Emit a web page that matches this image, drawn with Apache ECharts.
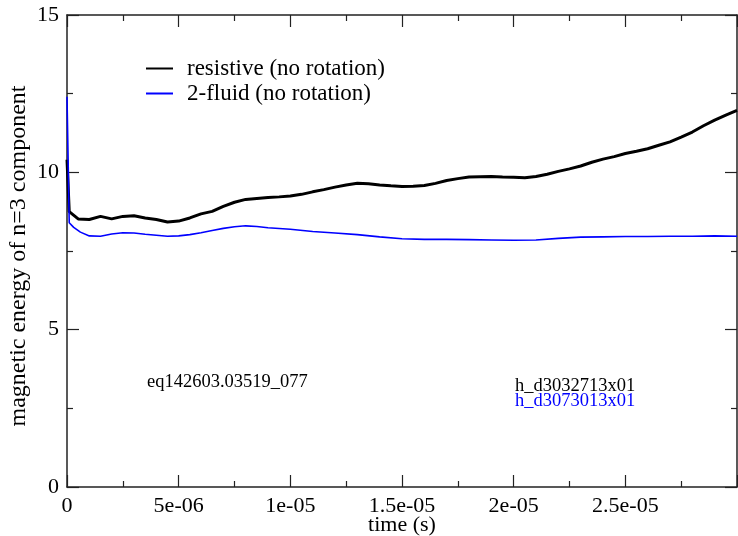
<!DOCTYPE html>
<html>
<head>
<meta charset="utf-8">
<script src="https://cdn.jsdelivr.net/npm/echarts@6/dist/echarts.min.js"></script>
<style>
  html, body { margin: 0; padding: 0; background: #fff; }
  #chart { width: 738px; height: 536px; }
</style>
</head>
<body>
<div id="chart"></div>
<script>
// time in microseconds (axis labels below are the original seconds)
const timeResistive = [0, 0.1, 0.5, 1, 1.5, 2, 2.5, 3, 3.5, 4, 4.5, 5, 5.5, 6, 6.5, 7, 7.5, 8, 8.5, 9,
  9.5, 10, 10.5, 11, 11.5, 12, 12.5, 13, 13.5, 14, 14.5, 15, 15.5, 16, 16.5, 17, 17.5, 18, 18.5, 19,
  19.5, 20, 20.5, 21, 21.5, 22, 22.5, 23, 23.5, 24, 24.5, 25, 25.5, 26, 26.5, 27, 27.5, 28, 28.5, 29,
  29.5, 30];
const energyResistive = [10.4, 8.75, 8.52, 8.5, 8.6, 8.52, 8.6, 8.62, 8.55, 8.5, 8.42, 8.45, 8.55, 8.68, 8.76, 8.92, 9.05, 9.14, 9.17, 9.2,
  9.22, 9.25, 9.3, 9.38, 9.45, 9.53, 9.6, 9.65, 9.64, 9.6, 9.57, 9.55, 9.56, 9.58, 9.65, 9.74, 9.8, 9.85, 9.86, 9.87,
  9.85, 9.84, 9.83, 9.87, 9.94, 10.03, 10.11, 10.2, 10.32, 10.42, 10.5, 10.6, 10.67, 10.75, 10.86, 10.97, 11.12, 11.28, 11.48, 11.66,
  11.82, 11.97];

const timeTwoFluid = [0, 0.1, 0.3, 0.6, 1, 1.5, 2, 2.5, 3, 3.5, 4, 4.5, 5, 5.5, 6, 6.5, 7, 7.5, 8, 8.5,
  9, 10, 11, 12, 13, 14, 15, 16, 17, 18, 19, 20, 21, 22, 23, 24, 25, 26, 27, 28, 29, 30];
const energyTwoFluid = [12.4, 8.4, 8.25, 8.1, 7.98, 7.97, 8.04, 8.08, 8.07, 8.03, 8.0, 7.97, 7.98, 8.02, 8.08, 8.15, 8.22, 8.27, 8.3, 8.28,
  8.24, 8.19, 8.12, 8.07, 8.02, 7.95, 7.89, 7.87, 7.87, 7.86, 7.85, 7.84, 7.85, 7.9, 7.94, 7.95, 7.96, 7.96, 7.97, 7.97, 7.98, 7.97];

const xTickLabels = ['0', '5e-06', '1e-05', '1.5e-05', '2e-05', '2.5e-05', ''];
const yTickLabels = ['0', '5', '10', '15'];

const seriesNames = ['resistive (no rotation)', '2-fluid (no rotation)'];
const runNames = ['h_d3032713x01', 'h_d3073013x01'];
const equilibriumName = 'eq142603.03519_077';

const serif = "'Liberation Serif', 'Times New Roman', serif";
const axisColor = '#222';

const chart = echarts.init(document.getElementById('chart'));

const frameAxis = (extra) => Object.assign({
  type: 'value',
  axisLine: { show: true, onZero: false, lineStyle: { color: axisColor, width: 1.5 } },
  axisTick: { show: true, inside: true, length: 12, lineStyle: { color: axisColor, width: 1.2 } },
  minorTick: { show: true, splitNumber: 2, length: 6, lineStyle: { color: axisColor, width: 1.2 } },
  splitLine: { show: false },
  axisLabel: { show: false }
}, extra);

const option = {
  animation: false,
  grid: { left: 67, right: 1, top: 15, bottom: 49, containLabel: false, outerBoundsMode: 'none' },
  legend: {
    orient: 'vertical',
    left: 141,
    top: 52,
    itemWidth: 27,
    itemHeight: 2,
    itemGap: 2,
    icon: 'rect',
    textStyle: { fontFamily: serif, fontSize: 23, color: '#000', padding: [0, 0, 0, 9] },
    data: seriesNames
  },
  xAxis: [
    frameAxis({
      min: 0, max: 30, interval: 5,
      position: 'bottom',
      name: 'time (s)',
      nameLocation: 'middle',
      nameGap: 27,
      nameMoveOverlap: false,
      nameTextStyle: { fontFamily: serif, fontSize: 22, color: '#000' },
      axisLabel: {
        show: true, margin: 8, fontFamily: serif, fontSize: 22, color: '#000',
        formatter: (v) => xTickLabels[Math.round(v / 5)]
      }
    }),
    frameAxis({ min: 0, max: 30, interval: 5, position: 'top' })
  ],
  yAxis: [
    frameAxis({
      min: 0, max: 15, interval: 5,
      position: 'left',
      name: 'magnetic energy of n=3 component',
      nameLocation: 'middle',
      nameGap: 36,
      nameMoveOverlap: false,
      nameTextStyle: { fontFamily: serif, fontSize: 24, color: '#000', padding: [0, 10, 0, 0] },
      axisLabel: {
        show: true, margin: 8, fontFamily: serif, fontSize: 22, color: '#000',
        formatter: (v) => yTickLabels[Math.round(v / 5)]
      }
    }),
    frameAxis({ min: 0, max: 15, interval: 5, position: 'right' })
  ],
  series: [
    {
      name: seriesNames[0],
      type: 'line',
      symbol: 'none',
      color: '#000',
      lineStyle: { color: '#000', width: 3 },
      data: timeResistive.map((t, i) => [t, energyResistive[i]])
    },
    {
      name: seriesNames[1],
      type: 'line',
      symbol: 'none',
      color: '#0000ff',
      lineStyle: { color: '#0000ff', width: 1.6 },
      data: timeTwoFluid.map((t, i) => [t, energyTwoFluid[i]])
    }
  ],
  graphic: [
    { type: 'text', left: 147, top: 373, style: { text: equilibriumName, fontFamily: serif, fontSize: 18.5, fill: '#000' } },
    { type: 'text', left: 515, top: 377, style: { text: runNames[0], fontFamily: serif, fontSize: 18.5, fill: '#000' } },
    { type: 'text', left: 515, top: 392, style: { text: runNames[1], fontFamily: serif, fontSize: 18.5, fill: '#0000ff' } }
  ]
};

chart.setOption(option);
</script>
</body>
</html>
